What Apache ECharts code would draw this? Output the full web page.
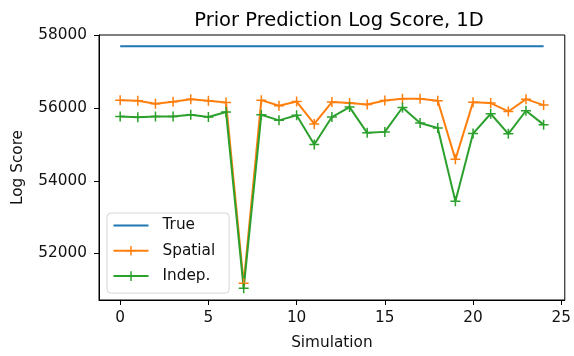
<!DOCTYPE html>
<html>
<head>
<meta charset="utf-8">
<script src="https://cdn.jsdelivr.net/npm/echarts@6/dist/echarts.min.js"></script>
<style>
  html, body { margin: 0; padding: 0; background: #fff; }
  #chart { width: 574px; height: 356px; }
</style>
</head>
<body>
<div id="chart"></div>
<script>
// Simulation index 0..24
const simulations = [0,1,2,3,4,5,6,7,8,9,10,11,12,13,14,15,16,17,18,19,20,21,22,23,24];

// Log score of the true model (constant across simulations)
const trueScore = 57700;

// Spatial model log scores
const spatial = [56218,56200,56117,56172,56245,56200,56153,51179,56218,56063,56180,55563,56165,56136,56100,56210,56254,56254,56200,54589,56163,56136,55907,56245,56082];

// Independent model log scores
const indep = [55771,55744,55771,55771,55817,55754,55890,51042,55817,55662,55800,55000,55754,56027,55318,55345,56016,55590,55454,53435,55299,55844,55291,55926,55544];

const xTicks = [0, 5, 10, 15, 20, 25];
const yTicks = [52000, 54000, 56000, 58000];

const FONT = 'DejaVu Sans';
const TICK_FS = 15.3;
// '+' marker drawn as a filled cross
const plus = 'path://M4.25,0H5.75V4.25H10V5.75H5.75V10H4.25V5.75H0V4.25H4.25Z';

const chart = echarts.init(document.getElementById('chart'), null, { renderer: 'canvas' });

const pairs = arr => simulations.map((s, i) => [s, arr[i]]);

chart.setOption({
  animation: false,
  textStyle: { fontFamily: FONT },
  title: {
    text: 'Prior Prediction Log Score, 1D',
    left: 334, top: 6, textAlign: 'center',
    textStyle: { fontFamily: FONT, fontSize: 19.5, fontWeight: 'normal', color: '#000' }
  },
  grid: {
    left: 99, right: 5, top: 35, bottom: 54.5,
    show: true, borderColor: '#000', borderWidth: 1, backgroundColor: '#fff'
  },
  legend: {
    orient: 'vertical', left: 107, top: 213,
    itemWidth: 35, itemHeight: 12, itemGap: 9.3,
    padding: [4.5, 14, 9, 5.5],
    backgroundColor: 'rgba(255,255,255,0.8)',
    borderColor: '#d6d6d6', borderWidth: 1, borderRadius: 4,
    textStyle: { fontFamily: FONT, fontSize: TICK_FS, lineHeight: 16, color: '#111', padding: [0, 0, 0, 9] },
    data: [
      { name: 'True', itemStyle: { opacity: 0 } },
      'Spatial',
      'Indep.'
    ]
  },
  xAxis: {
    type: 'value', min: -1.2, max: 25.2,
    name: 'Simulation', nameLocation: 'middle', nameGap: 36,
    nameTextStyle: { fontFamily: FONT, fontSize: TICK_FS, color: '#111' },
    axisLine: { show: true, onZero: false, lineStyle: { color: '#000', width: 1 } },
    axisTick: { show: true, length: 5, customValues: xTicks, lineStyle: { color: '#000' } },
    axisLabel: { customValues: xTicks, margin: 11, fontFamily: FONT, fontSize: TICK_FS, color: '#111' },
    splitLine: { show: false }
  },
  yAxis: {
    type: 'value', min: 50720, max: 58010,
    name: 'Log Score', nameLocation: 'middle', nameGap: 73,
    nameTextStyle: { fontFamily: FONT, fontSize: TICK_FS, color: '#111' },
    axisLine: { show: true, onZero: false, lineStyle: { color: '#000', width: 1 } },
    axisTick: { show: true, length: 5, customValues: yTicks, lineStyle: { color: '#000' } },
    axisLabel: { customValues: yTicks, margin: 12, fontFamily: FONT, fontSize: TICK_FS, color: '#111',
      formatter: v => String(v) },
    splitLine: { show: false }
  },
  series: [
    {
      name: 'True', type: 'line',
      data: pairs(simulations.map(() => trueScore)),
      symbol: 'none',
      lineStyle: { color: '#1f77b4', width: 2 },
      itemStyle: { color: '#1f77b4' }
    },
    {
      name: 'Spatial', type: 'line', data: pairs(spatial),
      symbol: plus, symbolSize: 10, showSymbol: true,
      lineStyle: { color: '#ff7f0e', width: 2 }, itemStyle: { color: '#ff7f0e' }
    },
    {
      name: 'Indep.', type: 'line', data: pairs(indep),
      symbol: plus, symbolSize: 10, showSymbol: true,
      lineStyle: { color: '#2ca02c', width: 2 }, itemStyle: { color: '#2ca02c' }
    }
  ]
});
</script>
</body>
</html>
